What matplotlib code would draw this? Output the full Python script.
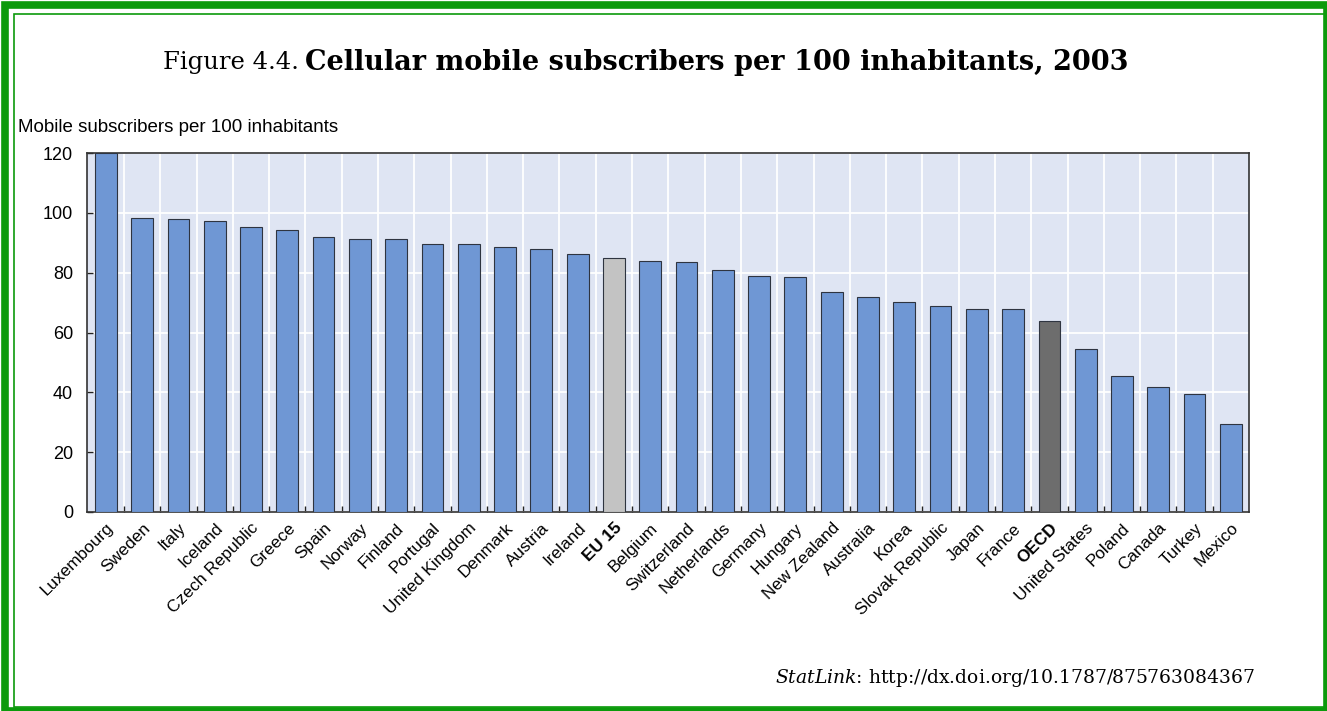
import matplotlib.pyplot as plt
from matplotlib.patches import Rectangle
from matplotlib.ticker import FixedLocator

plt.rcParams['mathtext.fontset'] = 'dejavuserif'

countries = ["Luxembourg", "Sweden", "Italy", "Iceland", "Czech Republic", "Greece",
             "Spain", "Norway", "Finland", "Portugal", "United Kingdom", "Denmark",
             "Austria", "Ireland", "EU 15", "Belgium", "Switzerland", "Netherlands",
             "Germany", "Hungary", "New Zealand", "Australia", "Korea", "Slovak Republic",
             "Japan", "France", "OECD", "United States", "Poland", "Canada", "Turkey", "Mexico"]
subscribers = [120.0, 98.3, 98.0, 97.3, 95.3, 94.3,
               92.0, 91.2, 91.1, 89.5, 89.5, 88.7,
               88.0, 86.2, 84.8, 84.0, 83.7, 80.9,
               78.9, 78.4, 73.5, 71.8, 70.2, 68.7,
               68.0, 67.7, 63.9, 54.5, 45.6, 41.8, 39.5, 29.3]
highlight = {"EU 15": "#c3c3c3", "OECD": "#6d6d6d"}
yticks = [0, 20, 40, 60, 80, 100, 120]

bar_blue = "#6f97d4"
bg = "#dfe5f3"
green = "#0c9a0c"
sans = ["Liberation Sans Narrow", "Liberation Sans"]

fig = plt.figure(figsize=(13.27, 7.11), dpi=100)

# green page frame
fig.patches.append(Rectangle((5 / 1327, 0), 1 - 5 / 1327, 1 - 5 / 711, transform=fig.transFigure,
                             fill=False, edgecolor=green, linewidth=5.5, zorder=0))
fig.patches.append(Rectangle((14 / 1327, 4 / 711), 1 - 14 / 1327, 1 - 18 / 711, transform=fig.transFigure,
                             fill=False, edgecolor=green, linewidth=1.2, zorder=0))

ax = fig.add_axes([87 / 1327, 1 - 512 / 711, (1249 - 87) / 1327, (512 - 153) / 711])
ax.set_facecolor(bg)

x = list(range(len(countries)))
colors = [highlight.get(c, bar_blue) for c in countries]
ax.bar(x, subscribers, width=0.6, color=colors, edgecolor="#2e3440", linewidth=0.8, zorder=3)

ax.set_xlim(-0.52, len(countries) - 0.5)
ax.set_ylim(0, 120)
ax.set_yticks(yticks)
ax.set_yticklabels([str(v) for v in yticks], fontsize=13, family=sans)

bounds = [i + 0.5 for i in range(len(countries) - 1)]
ax.xaxis.set_minor_locator(FixedLocator(bounds))
ax.set_xticks(x)
ax.set_xticklabels(countries, rotation=45, ha="right", rotation_mode="anchor",
                   fontsize=12.3, family=sans)
for lbl in ax.get_xticklabels():
    if lbl.get_text() in highlight:
        lbl.set_fontweight("bold")

ax.tick_params(axis="x", which="major", length=0, pad=6)
ax.tick_params(axis="x", which="minor", direction="in", length=4, width=1, color="#222222")
ax.tick_params(axis="y", direction="in", length=4, width=1, color="#222222", pad=10)

ax.grid(axis="y", color="white", linewidth=1.3, zorder=1)
ax.grid(axis="x", which="minor", color="white", linewidth=1.3, zorder=1)
ax.grid(axis="x", which="major", visible=False)
ax.set_axisbelow(True)
for s in ax.spines.values():
    s.set_color("#333333")
    s.set_linewidth(1.2)

fig.text(18 / 1327, 1 - 128 / 711, "Mobile subscribers per 100 inhabitants", fontsize=13.5,
         family=sans, ha="left", va="center")

fig.text(163 / 1327, 1 - 62 / 711, "Figure 4.4.", fontsize=17.5, family="DejaVu Serif",
         ha="left", va="center")
fig.text(305 / 1327, 1 - 62 / 711, "Cellular mobile subscribers per 100 inhabitants, 2003",
         fontsize=19.5, family="DejaVu Serif", fontweight="bold", ha="left", va="center")

fig.text(1255 / 1327, 1 - 678 / 711, r"$\mathit{StatLink}$: http://dx.doi.org/10.1787/875763084367",
         fontsize=13.5, family="DejaVu Serif", ha="right", va="center")

fig.savefig("out.png", dpi=100)
